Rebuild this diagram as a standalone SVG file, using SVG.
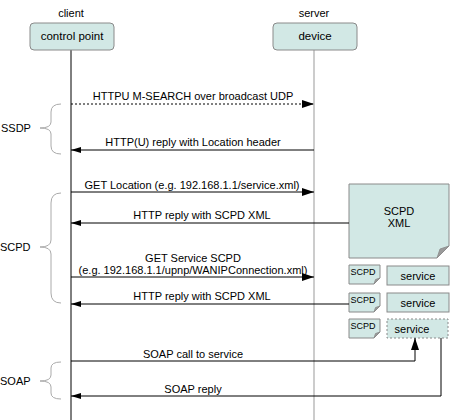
<svg xmlns="http://www.w3.org/2000/svg" width="450" height="420" viewBox="0 0 450 420">
<defs>
<marker id="big" markerWidth="12" markerHeight="8" refX="12" refY="4" orient="auto" markerUnits="userSpaceOnUse"><path d="M0,0 L12,4 L0,8 Z" fill="#000"/></marker>
<marker id="small" markerWidth="10" markerHeight="6" refX="10" refY="3" orient="auto" markerUnits="userSpaceOnUse"><path d="M0,0 L10,3 L0,6 Z" fill="#000"/></marker>
<style>
text{font-family:"Liberation Sans",Arial,sans-serif;font-size:11px;fill:#000}
.box{fill:#d2e8e5;stroke:#8a8a8a;stroke-width:1}
.fold{fill:#9a9a9a;stroke:#8a8a8a;stroke-width:0.8}
.msg{stroke:#000;stroke-width:1;fill:none}
.brace{stroke:#aaa;stroke-width:1;fill:none}
.mid{text-anchor:middle}
.tiny{font-size:9px}
</style>
</defs>
<g id="labels">
<text x="71" y="17" class="mid">client</text>
<text x="314" y="17" class="mid">server</text>
</g>
<g id="lifelines">
<line x1="71" y1="50" x2="71" y2="420" stroke="#000" stroke-width="1"/>
<line x1="314" y1="50" x2="314" y2="420" stroke="#999" stroke-width="1"/>
</g>
<g id="control-point">
<rect class="box" x="30" y="23" width="84" height="27" rx="4"/>
<text x="72" y="40" class="mid" style="font-size:11.5px">control point</text>
</g>
<g id="device">
<rect class="box" x="273" y="23" width="84" height="27" rx="4"/>
<text x="315" y="40" class="mid" style="font-size:11.5px">device</text>
</g>
<g id="scpd-xml">
<path class="box" d="M349,184 H449 V246 L437,258 H349 Z"/>
<path class="fold" d="M437,258 L440,249 L449,246 Z"/>
<text x="399" y="215" class="mid">SCPD</text>
<text x="399" y="227" class="mid">XML</text>
</g>
<g id="scpd1">
<path class="box" d="M349,265 H380 V278 L374,284 H349 Z"/>
<path class="fold" d="M374,284 L375.5,279.5 L380,278 Z"/>
<text x="363" y="275" class="mid tiny">SCPD</text>
</g>
<g id="service1">
<rect class="box" x="387" y="266" width="62" height="19"/>
<text x="418" y="279.5" class="mid">service</text>
</g>
<g id="scpd2">
<path class="box" d="M349,293 H380 V306 L374,312 H349 Z"/>
<path class="fold" d="M374,312 L375.5,307.5 L380,306 Z"/>
<text x="363" y="303" class="mid tiny">SCPD</text>
</g>
<g id="service2">
<rect class="box" x="387" y="293" width="62" height="19"/>
<text x="418" y="306.5" class="mid">service</text>
</g>
<g id="scpd3">
<path class="box" d="M349,319 H380 V332 L374,338 H349 Z"/>
<path class="fold" d="M374,338 L375.5,333.5 L380,332 Z"/>
<text x="363" y="329" class="mid tiny">SCPD</text>
</g>
<g id="service3">
<rect class="box" x="387" y="319" width="61" height="19" style="stroke-dasharray:2,2"/>
<text x="412" y="332.5" class="mid">service</text>
</g>
<g id="ssdp">
<path class="brace" d="M61,104 Q51,104 51,112 V122 Q51,128 40,128 Q51,128 51,134 V146 Q51,154 61,154"/>
<text x="1" y="132">SSDP</text>
</g>
<g id="scpd-group">
<path class="brace" d="M61,193 Q51,193 51,203 V240 Q51,247 40,247 Q51,247 51,254 V293 Q51,303 61,303"/>
<text x="0" y="251">SCPD</text>
</g>
<g id="soap">
<path class="brace" d="M61,362 Q51,362 51,368 V375 Q51,381 40,381 Q51,381 51,387 V393 Q51,399 61,399"/>
<text x="0" y="385">SOAP</text>
</g>
<g id="connectors">
<line class="msg" x1="71" y1="104" x2="314" y2="104" style="stroke-dasharray:2,2" marker-end="url(#big)"/>
<text x="193" y="100" class="mid">HTTPU M-SEARCH over broadcast UDP</text>
<line class="msg" x1="314" y1="150" x2="71" y2="150" marker-end="url(#small)"/>
<text x="193" y="146" class="mid">HTTP(U) reply with Location header</text>
<line class="msg" x1="71" y1="192" x2="314" y2="192" marker-end="url(#big)"/>
<text x="192" y="189" class="mid">GET Location (e.g. 192.168.1.1/service.xml)</text>
<line class="msg" x1="349" y1="223" x2="71" y2="223" marker-end="url(#small)"/>
<text x="202" y="219" class="mid">HTTP reply with SCPD XML</text>
<line class="msg" x1="71" y1="277" x2="314" y2="277" marker-end="url(#big)"/>
<text x="193" y="262" class="mid">GET Service SCPD</text>
<text x="193" y="274" class="mid">(e.g. 192.168.1.1/upnp/WANIPConnection.xml)</text>
<line class="msg" x1="349" y1="304" x2="71" y2="304" marker-end="url(#small)"/>
<text x="202" y="300" class="mid">HTTP reply with SCPD XML</text>
<path class="msg" d="M71,361 H415 V338" marker-end="url(#big)"/>
<text x="193" y="358" class="mid">SOAP call to service</text>
<path class="msg" d="M441,338 V396 H71" marker-end="url(#small)"/>
<text x="193" y="393" class="mid">SOAP reply</text>
</g>
</svg>
